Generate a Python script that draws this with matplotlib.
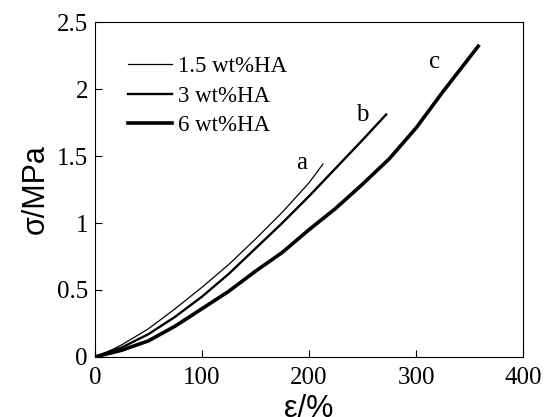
import matplotlib.pyplot as plt

# strain (%) and stress (MPa)
x_a = [0, 10, 25, 50, 75, 100, 125, 150, 175, 200, 213]
y_a = [0, 0.03, 0.09, 0.21, 0.36, 0.52, 0.69, 0.88, 1.08, 1.30, 1.44]
x_b = [0, 10, 25, 50, 75, 100, 125, 150, 175, 200, 225, 250, 272]
y_b = [0, 0.03, 0.07, 0.17, 0.30, 0.45, 0.62, 0.81, 1.00, 1.20, 1.41, 1.62, 1.81]
x_c = [0, 10, 25, 50, 75, 100, 125, 150, 175, 200, 225, 250, 275, 300, 325, 358]
y_c = [0, 0.02, 0.05, 0.12, 0.23, 0.36, 0.49, 0.64, 0.78, 0.95, 1.11, 1.29, 1.48, 1.71, 1.98, 2.32]
names = ["1.5 wt%HA", "3 wt%HA", "6 wt%HA"]
xticks = [0, 100, 200, 300, 400]
yticks = [0, 0.5, 1, 1.5, 2, 2.5]
ytick_labels = ["0", "0.5", "1", "1.5", "2", "2.5"]

plt.rcParams['font.family'] = ['Liberation Serif', 'DejaVu Serif']
fig = plt.figure(figsize=(5.45, 4.17), dpi=100, facecolor='white')
ax = fig.add_axes([0.174, 0.144, 0.786, 0.803])

ax.plot(x_a, y_a, color='black', lw=0.9, label=names[0])
ax.plot(x_b, y_b, color='black', lw=1.7, label=names[1])
ax.plot(x_c, y_c, color='black', lw=2.6, label=names[2])

ax.text(193, 1.45, "a", fontsize=18, ha='center', va='center')
ax.text(250, 1.81, "b", fontsize=18, ha='center', va='center')
ax.text(317, 2.20, "c", fontsize=18, ha='center', va='center')

ax.set_xlim(0, 400)
ax.set_ylim(0, 2.5)
ax.set_xticks(xticks)
ax.set_yticks(yticks)
ax.set_yticklabels(ytick_labels)
ax.tick_params(direction='in', length=5, labelsize=18, top=False, right=False)
ax.tick_params(axis='x', pad=7)
ax.tick_params(axis='y', pad=5)
ax.set_xlabel("ε/%", fontsize=22, family=['Liberation Sans', 'DejaVu Sans'], labelpad=4)
ax.set_ylabel("σ/MPa", fontsize=22, family=['Liberation Sans', 'DejaVu Sans'], labelpad=4)

ax.legend(loc='upper left', bbox_to_anchor=(0.055, 0.925), frameon=False, fontsize=16.5,
          handlelength=1.95, handletextpad=0.25, labelspacing=0.36, borderaxespad=0)

plt.savefig('out.png', dpi=100)
